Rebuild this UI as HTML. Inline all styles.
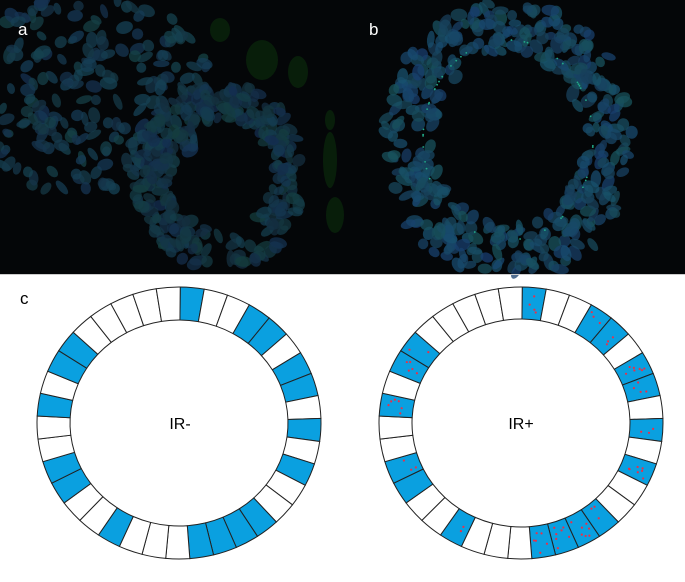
<!DOCTYPE html>
<html><head><meta charset="utf-8"><style>
html,body{margin:0;padding:0;background:#fff;}
svg{display:block;}
text{font-family:"Liberation Sans",sans-serif;}
</style></head><body>
<svg id="s" width="685" height="582" viewBox="0 0 685 582" xmlns="http://www.w3.org/2000/svg">
<rect x="0" y="0" width="685" height="275" fill="#040608"/>
<g id="micro"></g>
<text x="18" y="35" font-size="17" fill="#fff">a</text>
<text x="369" y="35" font-size="17" fill="#fff">b</text>
<text x="20" y="304" font-size="17" fill="#000">c</text>
<g id="rings"></g>
<text x="180" y="429" font-size="16" fill="#000" text-anchor="middle">IR-</text>
<text x="521" y="429" font-size="16" fill="#000" text-anchor="middle">IR+</text>
</svg>
<script>
var NS="http://www.w3.org/2000/svg";
var seed=7;function rnd(){seed=(seed*16807)%2147483647;return seed/2147483647;}
var micro=document.getElementById('micro');
function el(p,tag,a){var e=document.createElementNS(NS,tag);for(var k in a)e.setAttribute(k,a[k]);p.appendChild(e);return e;}
[[220,30,10,12],[262,60,16,20],[298,72,10,16],[330,160,7,28],[335,215,9,18],[330,120,5,10]].forEach(function(b){el(micro,'ellipse',{cx:b[0],cy:b[1],rx:b[2],ry:b[3],fill:'#0a2a0c',opacity:0.7});});
function nuc(x,y,c){var rx=5+rnd()*4,ry=3.5+rnd()*3;el(micro,'ellipse',{cx:x,cy:y,rx:rx,ry:ry,transform:'rotate('+(rnd()*180)+' '+x+' '+y+')',fill:c,opacity:0.75});}
for(var i=0;i<260;i++){var x=rnd()*210,y=rnd()*200;if(Math.hypot((x-90)/120,(y-90)/110)<1)nuc(x,y,'rgb(22,'+(50+rnd()*18|0)+','+(68+rnd()*20|0)+')');}
for(var i=0;i<280;i++){var a=rnd()*6.283,r=0.65+rnd()*0.45;var x=220+80*r*Math.cos(a),y=175+85*r*Math.sin(a);if(y<272&&x<300)nuc(x,y,'rgb(20,'+(45+rnd()*18|0)+','+(62+rnd()*20|0)+')');}
for(var i=0;i<420;i++){var a=rnd()*6.283,r=0.62+rnd()*0.4;var x=508+122*r*Math.cos(a),y=140+140*r*Math.sin(a);if(y<272&&y>2&&x>345)nuc(x,y,'rgb(24,'+(62+rnd()*22|0)+','+(88+rnd()*25|0)+')');}
for(var i=0;i<40;i++){var a=rnd()*6.283;el(micro,'circle',{cx:508+85*Math.cos(a),cy:140+100*Math.sin(a),r:0.9,fill:'#2a8'});}
el(micro,'rect',{x:0,y:274,width:685,height:1,fill:'#ccc'});
var rings=document.getElementById('rings');
var pat="BWWBBWBBWBWBWWBBBBWWWBWWBBWWBWBBWWWWW";
var N=pat.length,start=-89.5,step=360/N;
function pt(cx,cy,rx,ry,a){a=a*Math.PI/180;return [cx+rx*Math.cos(a),cy+ry*Math.sin(a)];}
function ring(cx,cy,orx,ory,irx,iry,dots){
 for(var k=0;k<N;k++){var a0=start+k*step,a1=a0+step;
  var p1=pt(cx,cy,orx,ory,a0),p2=pt(cx,cy,orx,ory,a1),p3=pt(cx,cy,irx,iry,a1),p4=pt(cx,cy,irx,iry,a0);
  var d='M'+p1+' A'+orx+' '+ory+' 0 0 1 '+p2+' L'+p3+' A'+irx+' '+iry+' 0 0 0 '+p4+' Z';
  var blue=pat[k]=='B';
  el(rings,'path',{d:d,fill:blue?'#0aa0e0':'#fff',stroke:'#222','stroke-width':1});
  if(blue&&dots&&rnd()<0.9){var n=2+(rnd()*6|0);for(var j=0;j<n;j++){var aa=a0+1.5+rnd()*(step-3),t=0.15+rnd()*0.7;var p=pt(cx,cy,irx+(orx-irx)*t,iry+(ory-iry)*t,aa);el(rings,'circle',{cx:p[0],cy:p[1],r:1.1,fill:'#e8304a'});}}
 }
}
ring(179,423,142,136,109,103,false);
ring(521,423,142,136,109,104,true);
</script>
</body></html>
